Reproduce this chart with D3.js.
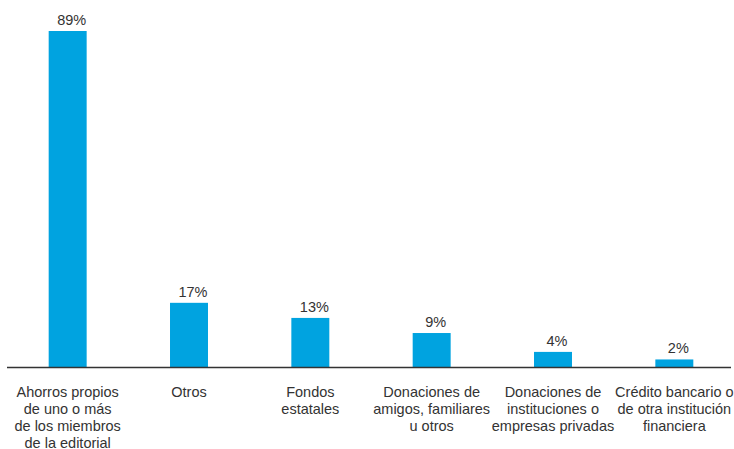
<!DOCTYPE html>
<html>
<head>
<meta charset="utf-8">
<script src="https://cdn.jsdelivr.net/npm/d3@7"></script>
<style>
  body { margin: 0; background: #fff; }
  svg { display: block; font-family: "Liberation Sans", Arial, sans-serif; }
</style>
</head>
<body>
<svg id="chart" width="734" height="449"></svg>
<script>
// categories, one entry per line of the wrapped label
const categories = [
    ["Ahorros propios", "de uno o más", "de los miembros", "de la editorial"],
    ["Otros"],
    ["Fondos", "estatales"],
    ["Donaciones de", "amigos, familiares", "u otros"],
    ["Donaciones de", "instituciones o", "empresas privadas"],
    ["Crédito bancario o", "de otra institución", "financiera"]
];
const values = [89, 17, 13, 9, 4, 2];
const valueLabels = ["89%", "17%", "13%", "9%", "4%", "2%"];

const svg = d3.select("#chart");
const baseY = 367;

const x = d3.scaleBand()
    .domain(d3.range(categories.length))
    .range([7, 735])
    .paddingInner(0.687)
    .paddingOuter(0.3435);

const y = d3.scaleLinear()
    .domain([0, 89])
    .range([baseY, 31]);

svg.append("g")
    .selectAll("rect")
    .data(values)
    .enter()
    .append("rect")
    .attr("x", (d, i) => x(i))
    .attr("y", d => y(d))
    .attr("width", x.bandwidth())
    .attr("height", d => baseY - y(d))
    .attr("fill", "#00a3e0")

svg.append("g")
    .selectAll("text")
    .data(values)
    .enter()
    .append("text")
    .attr("x", (d, i) => x(i) + x.bandwidth() / 2 + 4)
    .attr("y", d => y(d) - 6)
    .attr("text-anchor", "middle")
    .attr("font-size", "14.5px")
    .attr("fill", "#333")
    .text((d, i) => valueLabels[i])

// baseline + category labels
let axis = svg.append("g")
    .attr("transform", `translate(0,${baseY})`)
    .call(d3.axisBottom(x).tickSize(0).tickFormat(""));

axis.select(".domain")
    .attr("stroke", "#333")
    .attr("stroke-width", 1.5)
    .attr("d", "M7,0.5H731");

axis.selectAll(".tick text").remove();

axis.selectAll(".tick")
    .append("text")
    .attr("fill", "#333")
    .attr("font-size", "14.5px")
    .attr("text-anchor", "middle")
    .attr("y", 30)
    .selectAll("tspan")
    .data(i => categories[i])
    .enter()
    .append("tspan")
    .attr("x", 0)
    .attr("dy", (d, j) => j === 0 ? 0 : 17)
    .text(d => d)
</script>
</body>
</html>
